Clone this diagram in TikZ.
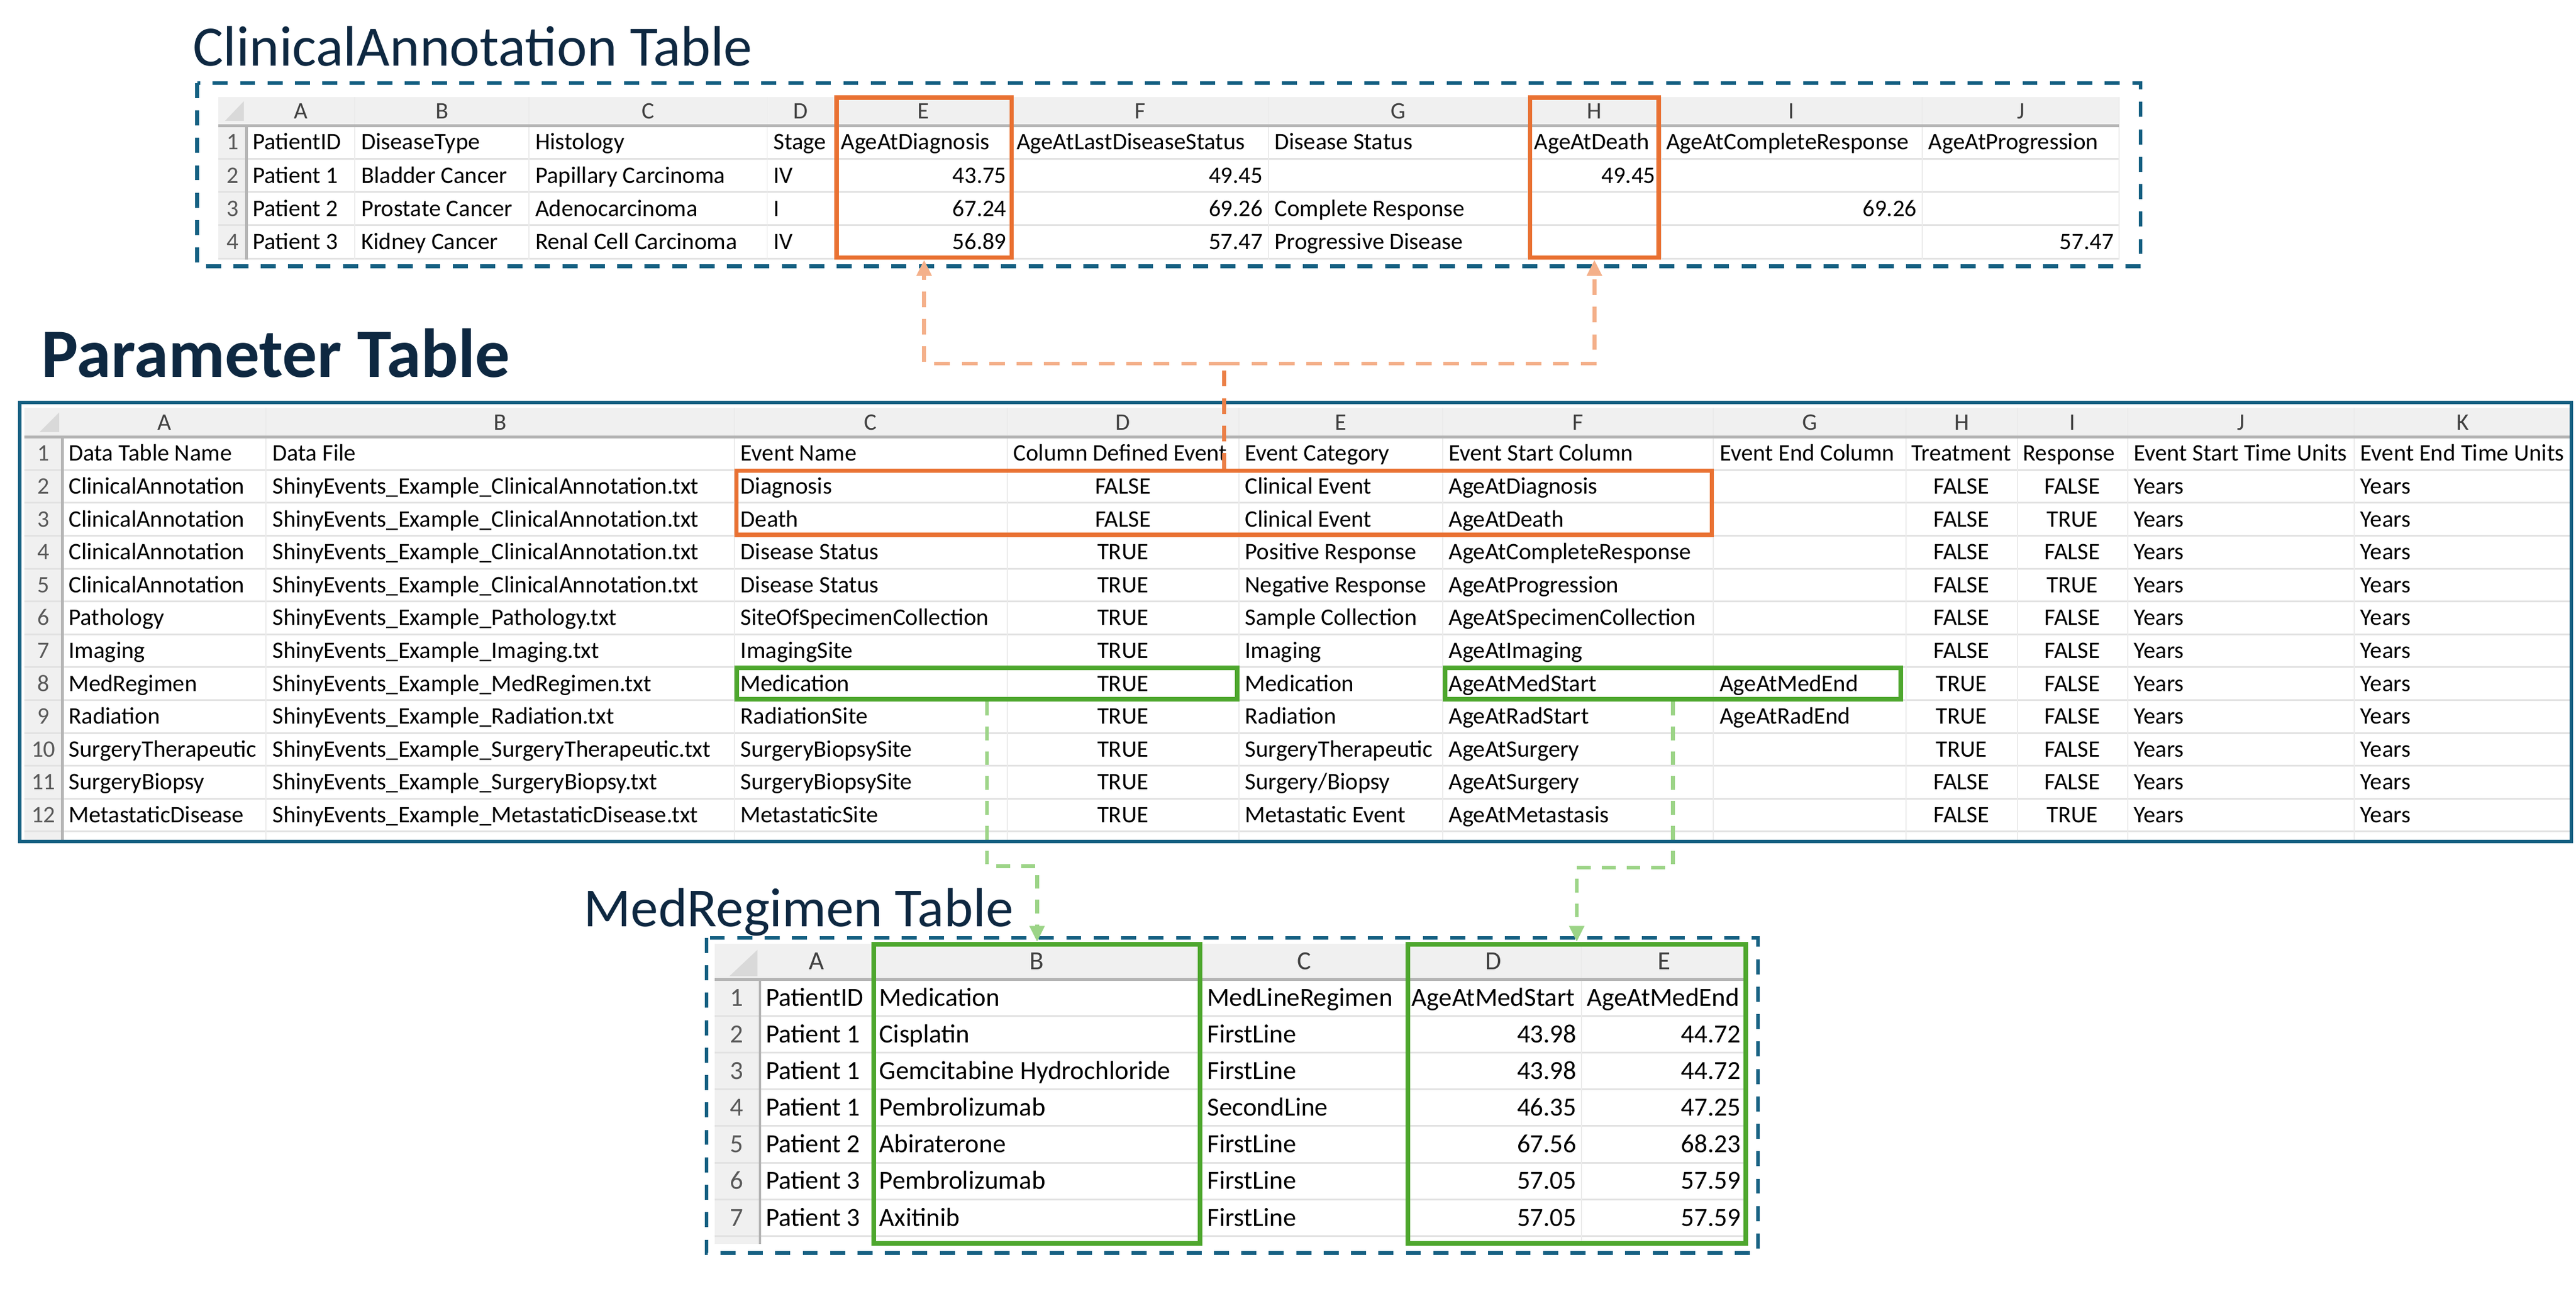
\documentclass[tikz,border=0pt]{standalone}
\usepackage{fontspec}
\setmainfont{Carlito}
\usetikzlibrary{positioning, arrows.meta, calc, fit}
\definecolor{tblue}{HTML}{156082}
\definecolor{tnavy}{HTML}{0E2841}
\definecolor{torange}{HTML}{E97132}
\definecolor{tlorange}{HTML}{F4B08A}
\definecolor{tgreen}{HTML}{4EA72E}
\definecolor{tlgreen}{HTML}{9CD487}
\definecolor{hdrgray}{HTML}{F0F0F0}
\definecolor{cornergray}{HTML}{D9D9D9}
\definecolor{gridgray}{HTML}{E2E2E2}
\definecolor{hdlinegray}{HTML}{B4B4B4}
\newcommand{\tabfont}{\fontsize{8.2}{10}\selectfont}
\newcommand{\medfont}{\fontsize{9.05}{11}\selectfont}

\begin{document}
\begin{tikzpicture}[x=0.02cm, y=-0.02cm,
    cell/.style={inner sep=0pt, text height=5.2pt, text depth=0pt, font=\tabfont},
    cellL/.style={cell, anchor=west},
    cellR/.style={cell, anchor=east},
    cellC/.style={cell, anchor=center},
    mcell/.style={cell, text height=5.7pt, font=\medfont},
    mcellL/.style={mcell, anchor=west},
    mcellR/.style={mcell, anchor=east},
    colhd/.style={text=black!75},
    rownum/.style={text=black!65},
    title/.style={anchor=base west, text=tnavy, inner sep=0pt},
    gridh/.style={draw=gridgray, line width=0.6pt},
    gridv/.style={draw=gridgray!70, line width=0.4pt},
    hdline/.style={draw=hdlinegray, line width=0.9pt},
    dashframe/.style={draw=tblue, line width=1.3pt, dash pattern=on 5.2pt off 4.3pt},
    obox/.style={draw=torange, line width=1.5pt, inner sep=0pt},
    gbox/.style={draw=tgreen, line width=1.6pt, inner sep=0pt},
    oconn/.style={draw=tlorange, line width=1.35pt, dash pattern=on 5.4pt off 4.1pt},
    gconn/.style={draw=tlgreen, line width=1.3pt, dash pattern=on 4.8pt off 3.8pt},
    tip/.style={-{Triangle[width=5pt,length=5.5pt]}}
  ]
\useasboundingbox (0,0) rectangle (1568,785.3);

% titles
\node[title, font=\fontsize{19.8}{21}\selectfont] (caTitle) at (117,40) {ClinicalAnnotation Table};
\node[title, font=\fontsize{24}{26}\selectfont\bfseries] (parTitle) at (25,229.5) {Parameter Table};
\node[title, font=\fontsize{19.1}{21}\selectfont] (medTitle) at (355,564) {MedRegimen Table};

% ClinicalAnnotation sheet
\fill[hdrgray] (133,59) rectangle (1290,76.5);
\fill[hdrgray] (133,76.5) rectangle (150,158);
\fill[cornergray] (137,73.5) -- (148.5,61.5) -- (148.5,73.5) -- cycle;
\foreach \y in {96.7,116.9,137.1,157.3} \draw[gridh] (133,\y) -- (1290,\y);
\foreach \x in {216,322,467,508,616,772,930,1011,1170,1290} \draw[gridv] (\x,59) -- (\x,158);
\draw[hdline] (133,76.5) -- (1290,76.5);
\draw[hdline] (150,76.5) -- (150,158);
\foreach \l/\x in {A/183,B/269,C/394.5,D/487.5,E/562,F/694,G/851,H/970.5,I/1090.5,J/1230}
  \node[cellC, colhd] (ca-hd-\l) at (\x,67.8) {\l};
\foreach \r in {1,...,4}
  \node[cellC, rownum] (ca-rn-\r) at (141.5,{86.6+(\r-1)*20.2}) {\r};
\foreach \x/\t [count=\i] in {153.5/PatientID,219.5/DiseaseType,325.5/Histology,470.5/Stage,511.5/AgeAtDiagnosis,
    618.5/AgeAtLastDiseaseStatus,775.5/Disease Status,933.5/AgeAtDeath,1014/AgeAtCompleteResponse,1173.5/AgeAtProgression}
  \node[cellL] (ca-1-\i) at (\x,86.6) {\t};
\foreach \r/\vA/\vB/\vC/\vD/\vE/\vF/\vG/\vH/\vI/\vJ [evaluate=\r as \y using 86.6+(\r-1)*20.2] in {
    2/Patient 1/Bladder Cancer/Papillary Carcinoma/IV/43.75/49.45//49.45//,
    3/Patient 2/Prostate Cancer/Adenocarcinoma/I/67.24/69.26/Complete Response//69.26/,
    4/Patient 3/Kidney Cancer/Renal Cell Carcinoma/IV/56.89/57.47/Progressive Disease///57.47}
{
  \node[cellL] (ca-\r-A) at (153.5,\y) {\vA};
  \node[cellL] (ca-\r-B) at (219.5,\y) {\vB};
  \node[cellL] (ca-\r-C) at (325.5,\y) {\vC};
  \node[cellL] (ca-\r-D) at (470.5,\y) {\vD};
  \node[cellR] (ca-\r-E) at (613,\y) {\vE};
  \node[cellR] (ca-\r-F) at (769,\y) {\vF};
  \node[cellL] (ca-\r-G) at (775.5,\y) {\vG};
  \node[cellR] (ca-\r-H) at (1008,\y) {\vH};
  \node[cellR] (ca-\r-I) at (1167,\y) {\vI};
  \node[cellR] (ca-\r-J) at (1287,\y) {\vJ};
}
\draw[dashframe] (120,50.5) rectangle (1303,162);

% Parameter sheet
\fill[hdrgray] (15,248) rectangle (1565,266);
\fill[hdrgray] (15,266) rectangle (38,511);
\fill[cornergray] (24,263) -- (36,251) -- (36,263) -- cycle;
\foreach \y in {286,306,...,506} \draw[gridh] (15,\y) -- (1565,\y);
\foreach \x in {162,447,613,754,878,1043,1160,1228,1295,1433} \draw[gridv] (\x,248) -- (\x,511);
\draw[hdline] (15,266) -- (1565,266);
\draw[hdline] (38,266) -- (38,511);
\foreach \l/\x in {A/100,B/304.5,C/530,D/683.5,E/816,F/960.5,G/1101.5,H/1194,I/1261.5,J/1364,K/1499}
  \node[cellC, colhd] (p-hd-\l) at (\x,257) {\l};
\foreach \r in {1,...,12}
  \node[cellC, rownum] (p-rn-\r) at (26.5,{276+(\r-1)*20}) {\r};
\foreach \x/\t [count=\i] in {41.5/Data Table Name,165.5/Data File,450.5/Event Name,616.5/Column Defined Event,
    757.5/Event Category,881.5/Event Start Column,1046.5/Event End Column,1163/Treatment,1231/Response,
    1298.5/Event Start Time Units,1436.5/Event End Time Units}
  \node[cellL] (p-1-\i) at (\x,276) {\t};
\foreach \r/\vA/\vB/\vC/\vD/\vE/\vF/\vG/\vH/\vI [evaluate=\r as \y using 276+(\r-1)*20] in {
    2/ClinicalAnnotation/ShinyEvents\_Example\_ClinicalAnnotation.txt/Diagnosis/FALSE/Clinical Event/AgeAtDiagnosis//FALSE/FALSE,
    3/ClinicalAnnotation/ShinyEvents\_Example\_ClinicalAnnotation.txt/Death/FALSE/Clinical Event/AgeAtDeath//FALSE/TRUE,
    4/ClinicalAnnotation/ShinyEvents\_Example\_ClinicalAnnotation.txt/Disease Status/TRUE/Positive Response/AgeAtCompleteResponse//FALSE/FALSE,
    5/ClinicalAnnotation/ShinyEvents\_Example\_ClinicalAnnotation.txt/Disease Status/TRUE/Negative Response/AgeAtProgression//FALSE/TRUE,
    6/Pathology/ShinyEvents\_Example\_Pathology.txt/SiteOfSpecimenCollection/TRUE/Sample Collection/AgeAtSpecimenCollection//FALSE/FALSE,
    7/Imaging/ShinyEvents\_Example\_Imaging.txt/ImagingSite/TRUE/Imaging/AgeAtImaging//FALSE/FALSE,
    8/MedRegimen/ShinyEvents\_Example\_MedRegimen.txt/Medication/TRUE/Medication/AgeAtMedStart/AgeAtMedEnd/TRUE/FALSE,
    9/Radiation/ShinyEvents\_Example\_Radiation.txt/RadiationSite/TRUE/Radiation/AgeAtRadStart/AgeAtRadEnd/TRUE/FALSE,
    10/SurgeryTherapeutic/ShinyEvents\_Example\_SurgeryTherapeutic.txt/SurgeryBiopsySite/TRUE/SurgeryTherapeutic/AgeAtSurgery//TRUE/FALSE,
    11/SurgeryBiopsy/ShinyEvents\_Example\_SurgeryBiopsy.txt/SurgeryBiopsySite/TRUE/{Surgery/Biopsy}/AgeAtSurgery//FALSE/FALSE,
    12/MetastaticDisease/ShinyEvents\_Example\_MetastaticDisease.txt/MetastaticSite/TRUE/Metastatic Event/AgeAtMetastasis//FALSE/TRUE}
{
  \node[cellL] (p-\r-A) at (41.5,\y) {\vA};
  \node[cellL] (p-\r-B) at (165.5,\y) {\vB};
  \node[cellL] (p-\r-C) at (450.5,\y) {\vC};
  \node[cellC] (p-\r-D) at (683.5,\y) {\vD};
  \node[cellL] (p-\r-E) at (757.5,\y) {\vE};
  \node[cellL] (p-\r-F) at (881.5,\y) {\vF};
  \node[cellL] (p-\r-G) at (1046.5,\y) {\vG};
  \node[cellC] (p-\r-H) at (1194,\y) {\vH};
  \node[cellC] (p-\r-I) at (1261.5,\y) {\vI};
  \node[cellL] (p-\r-J) at (1298.5,\y) {Years};
  \node[cellL] (p-\r-K) at (1436.5,\y) {Years};
}
\draw[tblue, line width=1.2pt] (12,245) rectangle (1565,512);

% MedRegimen sheet
\fill[hdrgray] (435,574.3) rectangle (1063,596);
\fill[hdrgray] (435,596) rectangle (462.6,757);
\fill[cornergray] (444,594) -- (461,578) -- (461,594) -- cycle;
\foreach \y in {618.3,640.6,662.9,685.2,707.5,729.8,752.1} \draw[gridh] (435,\y) -- (1063,\y);
\foreach \x in {531,731.5,856,962.7,1063} \draw[gridv] (\x,574.3) -- (\x,757);
\draw[hdline] (435,596) -- (1063,596);
\draw[hdline] (462.6,596) -- (462.6,757);
\foreach \l/\x in {A/497,B/631,C/794,D/909,E/1013}
  \node[mcell, anchor=center, colhd] (m-hd-\l) at (\x,585) {\l};
\foreach \r in {1,...,7}
  \node[mcell, anchor=center, rownum] (m-rn-\r) at (448.5,{607.2+(\r-1)*22.3}) {\r};
\foreach \x/\t [count=\i] in {465.8/PatientID,535/Medication,734.5/MedLineRegimen,859/AgeAtMedStart,965.5/AgeAtMedEnd}
  \node[mcellL] (m-1-\i) at (\x,607.2) {\t};
\foreach \r/\vA/\vB/\vC/\vD/\vE [evaluate=\r as \y using 607.2+(\r-1)*22.3] in {
    2/Patient 1/Cisplatin/FirstLine/43.98/44.72,
    3/Patient 1/Gemcitabine Hydrochloride/FirstLine/43.98/44.72,
    4/Patient 1/Pembrolizumab/SecondLine/46.35/47.25,
    5/Patient 2/Abiraterone/FirstLine/67.56/68.23,
    6/Patient 3/Pembrolizumab/FirstLine/57.05/57.59,
    7/Patient 3/Axitinib/FirstLine/57.05/57.59}
{
  \node[mcellL] (m-\r-A) at (465.8,\y) {\vA};
  \node[mcellL] (m-\r-B) at (535,\y) {\vB};
  \node[mcellL] (m-\r-C) at (734.5,\y) {\vC};
  \node[mcellR] (m-\r-D) at (960,\y) {\vD};
  \node[mcellR] (m-\r-E) at (1060,\y) {\vE};
}
\draw[dashframe] (430,570.7) rectangle (1070,762.5);

% highlighted columns and rows
\node[obox, fit={(509.3,59.3) (615.7,156.8)}] (caE) {};
\node[obox, fit={(931.3,59.3) (1009.7,156.8)}] (caH) {};
\node[obox, fit={(448.3,286.5) (1042,325.5)}] (pOr) {};
\node[gbox, fit={(448.5,406.5) (753,425.5)}] (gMed) {};
\node[gbox, fit={(879.5,406.5) (1157,425.5)}] (gAge) {};
\node[gbox, fit={(532,574.5) (730.5,756.5)}] (mB) {};
\node[gbox, fit={(857,574.5) (1062.5,756.5)}] (mDE) {};

% connectors
\coordinate (ojoin) at ($(pOr.north)+(0,-64)$);
\draw[oconn, draw=torange!90] (pOr.north) -- (ojoin);
\draw[oconn, tip] (ojoin) -| (caE.south);
\draw[oconn, tip] (ojoin) -| (caH.south);
\coordinate (gbendA) at (616,527);
\coordinate (gbendB) at (989,528);
\draw[gconn, tip] (gMed.south) |- (gbendA) -| (mB.north);
\draw[gconn, tip] (gAge.south) |- (gbendB) -| (mDE.north);
\end{tikzpicture}
\end{document}
